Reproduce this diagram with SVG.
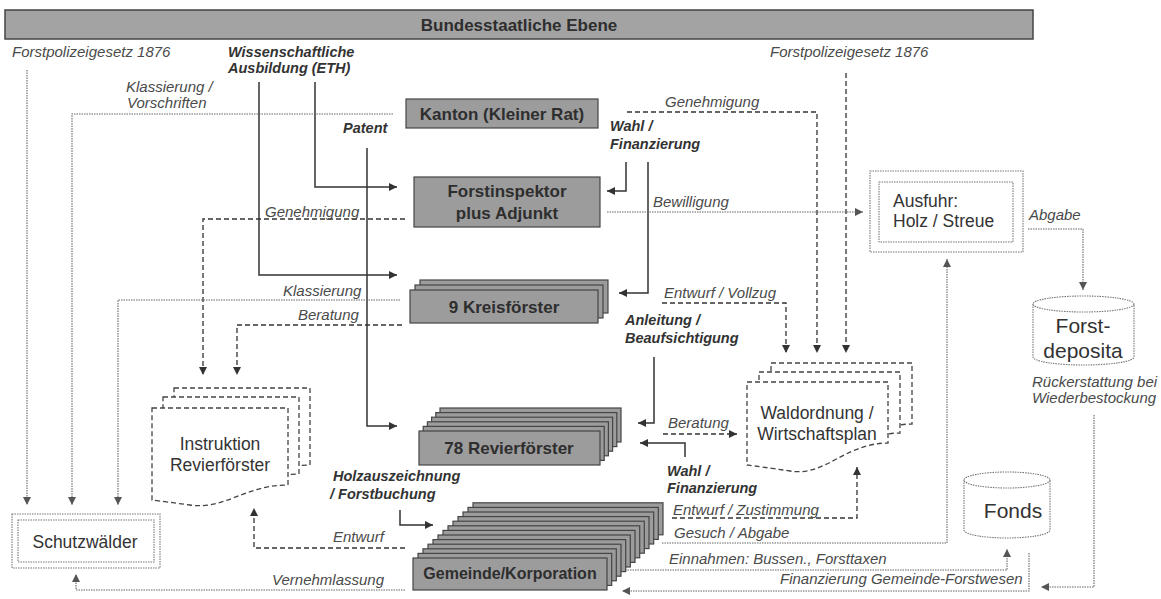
<svg xmlns="http://www.w3.org/2000/svg" width="1161" height="599" viewBox="0 0 1161 599">
<style>
.bg{fill:#ffffff}
.bar{fill:#a3a3a3;stroke:#444;stroke-width:1.5}
.box{fill:#9c9c9c;stroke:#454545;stroke-width:1.2}
.bt{font-family:"Liberation Sans",Arial,sans-serif;font-weight:bold;font-size:17px;fill:#2e2e2e;text-anchor:middle}
.nt{font-family:"Liberation Sans",Arial,sans-serif;font-size:17.5px;fill:#333}
.cy{font-family:"Liberation Sans",Arial,sans-serif;font-size:21px;fill:#333;text-anchor:middle}
.lb{font-family:"Liberation Sans",Arial,sans-serif;font-style:italic;font-size:15px;fill:#4a4a4a}
.lbb{font-family:"Liberation Sans",Arial,sans-serif;font-style:italic;font-weight:bold;font-size:14.5px;fill:#333}
.doc{fill:#fff;stroke:#444;stroke-width:1.3;stroke-dasharray:5 3}
.dotbox{fill:#fff;stroke:#777;stroke-width:1.1;stroke-dasharray:1.5 1}
.solid{fill:none;stroke:#333;stroke-width:1.5;marker-end:url(#as)}
.dash{fill:none;stroke:#333;stroke-width:1.3;stroke-dasharray:5 3;marker-end:url(#as)}
.dot{fill:none;stroke:#666;stroke-width:1.1;stroke-dasharray:1.5 1;marker-end:url(#ad)}
</style>
<defs>
<marker id="as" viewBox="0 0 10 10" refX="10" refY="5" markerWidth="8" markerHeight="8" markerUnits="userSpaceOnUse" orient="auto"><path d="M0,0 L10,5 L0,10 z" fill="#333"/></marker>
<marker id="ad" viewBox="0 0 10 10" refX="10" refY="5" markerWidth="8" markerHeight="8" markerUnits="userSpaceOnUse" orient="auto"><path d="M0,0 L10,5 L0,10 z" fill="#555"/></marker>
</defs>
<rect class="bg" x="0" y="0" width="1161" height="599"/>

<g id="bund">
<rect class="bar" x="5" y="10" width="1028" height="29"/>
<text class="bt" x="519" y="31">Bundesstaatliche Ebene</text>
</g>

<g id="connectors">
<path class="solid" d="M259,82 V275 H397"/>
<path class="solid" d="M315,82 V187 H397"/>
<path class="solid" d="M367,148 V426 H397"/>
<path class="solid" d="M626,162 V191 H607"/>
<path class="solid" d="M648,162 V293 H619"/>
<path class="solid" d="M654,357 V423 H638"/>
<path class="solid" d="M685,457 V443 H640"/>
<path class="solid" d="M400,510 V525 H433"/>
<path class="dash" d="M627,112 H817 V353"/>
<path class="dash" d="M846,73 V353"/>
<path class="dash" d="M662,303 H786 V353"/>
<path class="dash" d="M405,219 H203 V375"/>
<path class="dash" d="M402,325 H237 V375"/>
<path class="dash" d="M663,434 H737"/>
<path class="dash" d="M405,548 H254 V508"/>
<path class="dash" d="M672,518 H857 V467"/>
<path class="dot" d="M27,70 V505"/>
<path class="dot" d="M393,114 H72 V505"/>
<path class="dot" d="M400,300 H118 V505"/>
<path class="dot" d="M607,212 H863"/>
<path class="dot" d="M1028,229 H1083 V290"/>
<path class="dot" d="M662,543 H947 V259"/>
<path class="dot" d="M625,570 H1007 V549"/>
<path class="dot" d="M1029,553 V591 H622"/>
<path class="dot" d="M1094,415 V587 H1041"/>
<path class="dot" d="M405,590 H76 V574"/>
</g>

<g id="labels">
<text class="lb" x="12" y="57">Forstpolizeigesetz 1876</text>
<text class="lb" x="770" y="57">Forstpolizeigesetz 1876</text>
<text class="lbb" x="228" y="57">Wissenschaftliche</text>
<text class="lbb" x="228" y="73">Ausbildung (ETH)</text>
<text class="lb" x="126" y="92">Klassierung /</text>
<text class="lb" x="127" y="108">Vorschriften</text>
<text class="lbb" x="343" y="133">Patent</text>
<text class="lb" x="665" y="107">Genehmigung</text>
<text class="lbb" x="610" y="131">Wahl /</text>
<text class="lbb" x="610" y="149">Finanzierung</text>
<text class="lb" x="265" y="217">Genehmigung</text>
<text class="lb" x="653" y="207">Bewilligung</text>
<text class="lb" x="283" y="296">Klassierung</text>
<text class="lb" x="298" y="320">Beratung</text>
<text class="lb" x="664" y="298">Entwurf / Vollzug</text>
<text class="lbb" x="625" y="325">Anleitung /</text>
<text class="lbb" x="625" y="343">Beaufsichtigung</text>
<text class="lb" x="668" y="428">Beratung</text>
<text class="lbb" x="333" y="481">Holzauszeichnung</text>
<text class="lbb" x="330" y="499">/ Forstbuchung</text>
<text class="lbb" x="667" y="476">Wahl /</text>
<text class="lbb" x="667" y="493">Finanzierung</text>
<text class="lb" x="673" y="515">Entwurf / Zustimmung</text>
<text class="lb" x="674" y="538">Gesuch / Abgabe</text>
<text class="lb" x="669" y="564">Einnahmen: Bussen., Forsttaxen</text>
<text class="lb" x="780" y="584">Finanzierung Gemeinde-Forstwesen</text>
<text class="lb" x="333" y="542">Entwurf</text>
<text class="lb" x="272" y="585">Vernehmlassung</text>
<text class="lb" x="1029" y="220">Abgabe</text>
<text class="lb" x="1032" y="387">Rückerstattung bei</text>
<text class="lb" x="1032" y="403">Wiederbestockung</text>
</g>

<g id="kanton">
<rect class="box" x="406" y="99" width="192" height="29"/>
<text class="bt" x="502" y="120">Kanton (Kleiner Rat)</text>
</g>

<g id="forstinspektor">
<rect class="box" x="414" y="177" width="186" height="50"/>
<text class="bt" x="507" y="197">Forstinspektor</text>
<text class="bt" x="507" y="219">plus Adjunkt</text>
</g>

<g id="kreisfoerster">
<rect class="box" x="420" y="280" width="188" height="33"/>
<rect class="box" x="415" y="285" width="188" height="33"/>
<rect class="box" x="410" y="290" width="188" height="33"/>
<text class="bt" x="504" y="313">9 Kreisförster</text>
</g>

<g id="revierfoerster">
<rect class="box" x="440" y="408" width="181" height="34"/>
<rect class="box" x="435.8" y="412.6" width="181" height="34"/>
<rect class="box" x="431.6" y="417.2" width="181" height="34"/>
<rect class="box" x="427.4" y="421.8" width="181" height="34"/>
<rect class="box" x="423.2" y="426.4" width="181" height="34"/>
<rect class="box" x="419" y="431" width="181" height="34"/>
<text class="bt" x="509" y="454">78 Revierförster</text>
</g>

<g id="gemeinde">
<rect class="box" x="473" y="502.8" width="190" height="32"/>
<rect class="box" x="468" y="507.4" width="190.3" height="32"/>
<rect class="box" x="463" y="512" width="190.7" height="32"/>
<rect class="box" x="458" y="516.6" width="191" height="32"/>
<rect class="box" x="453" y="521.2" width="191.3" height="32"/>
<rect class="box" x="448" y="525.8" width="191.7" height="32"/>
<rect class="box" x="443" y="530.4" width="192" height="32"/>
<rect class="box" x="438" y="535" width="192.3" height="32"/>
<rect class="box" x="433" y="539.6" width="192.7" height="32"/>
<rect class="box" x="428" y="544.2" width="193" height="32"/>
<rect class="box" x="423" y="548.8" width="193.3" height="32"/>
<rect class="box" x="418" y="553.4" width="193.7" height="32"/>
<rect class="box" x="413" y="558" width="194" height="32"/>
<text class="bt" x="510" y="579" style="font-size:16px">Gemeinde/Korporation</text>
</g>

<g id="instruktion">
<path class="doc" transform="translate(22,-20)" d="M152,408 H288 V485 C245,485 225,510 190,505 C175,503 160,501 152,500 Z"/>
<path class="doc" transform="translate(11,-11)" d="M152,408 H288 V485 C245,485 225,510 190,505 C175,503 160,501 152,500 Z"/>
<path class="doc" d="M152,408 H288 V485 C245,485 225,510 190,505 C175,503 160,501 152,500 Z"/>
<text class="nt" x="220" y="450" text-anchor="middle">Instruktion</text>
<text class="nt" x="220" y="471" text-anchor="middle">Revierförster</text>
</g>

<g id="waldordnung">
<path class="doc" transform="translate(24,-19)" d="M747,382 H888 V443 C845,443 825,477 790,471 C770,468 755,466 747,465 Z"/>
<path class="doc" transform="translate(12,-10)" d="M747,382 H888 V443 C845,443 825,477 790,471 C770,468 755,466 747,465 Z"/>
<path class="doc" d="M747,382 H888 V443 C845,443 825,477 790,471 C770,468 755,466 747,465 Z"/>
<text class="nt" x="817" y="419" text-anchor="middle">Waldordnung /</text>
<text class="nt" x="817" y="440" text-anchor="middle">Wirtschaftsplan</text>
</g>

<g id="ausfuhr">
<rect class="dotbox" x="870" y="171" width="153" height="81"/>
<rect class="dotbox" x="879" y="182" width="134" height="60"/>
<text class="nt" x="893" y="207">Ausfuhr:</text>
<text class="nt" x="893" y="227">Holz / Streue</text>
</g>

<g id="schutzwaelder">
<rect class="dotbox" x="12" y="514" width="148" height="54"/>
<rect class="dotbox" x="18" y="520" width="136" height="42"/>
<text class="nt" x="85" y="548" text-anchor="middle">Schutzwälder</text>
</g>

<g id="forstdeposita">
<path class="dotbox" d="M1033,304 V357 A50.5,8 0 0 0 1134,357 V304"/>
<ellipse class="dotbox" cx="1083.5" cy="304" rx="50.5" ry="8"/>
<text class="cy" x="1083" y="333">Forst-</text>
<text class="cy" x="1083" y="358">deposita</text>
</g>

<g id="fonds">
<path class="dotbox" d="M964,480 V530 A43,8 0 0 0 1050,530 V480"/>
<ellipse class="dotbox" cx="1007" cy="480" rx="43" ry="8"/>
<text class="cy" x="1013" y="518">Fonds</text>
</g>
</svg>
